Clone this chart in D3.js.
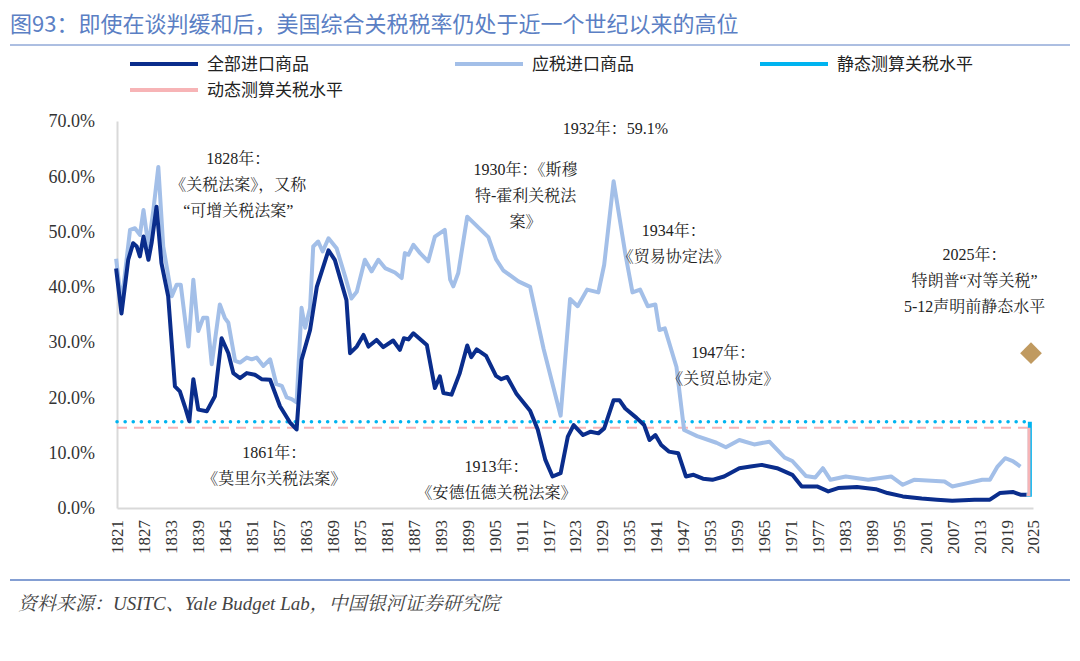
<!DOCTYPE html>
<html><head><meta charset="utf-8">
<script src="https://cdn.jsdelivr.net/npm/d3@7"></script>
<style>body{margin:0;background:#fff}</style></head>
<body><svg id="c" width="1080" height="661"></svg>
<script>
const allYears=[1820.8,1822,1823.5,1824.6,1825.4,1826.1,1826.9,1828,1828.7,1829.8,1830.9,1832.4,1833.9,1835,1836.1,1837.1,1838,1839.1,1841,1842.8,1844.3,1845.8,1846.9,1848.4,1849.9,1851.7,1853.2,1855.1,1857.3,1859.5,1861,1862.1,1864,1865.5,1868.1,1869.5,1872.1,1872.9,1874.4,1875.9,1877,1878.8,1880.3,1882.5,1884,1884.9,1885.9,1887,1890,1891.8,1892.9,1893.7,1895.5,1897.3,1899,1899.9,1901.1,1903.2,1905.4,1906.6,1907.9,1910,1913,1914.7,1916.4,1918,1919.8,1921.4,1922.7,1924.8,1926.5,1928.2,1929.5,1931.6,1932.9,1934.2,1936.7,1938.4,1939.6,1940.9,1942.2,1943.9,1946,1947.7,1949.4,1951.5,1953.6,1956.2,1959.6,1962.1,1964.6,1968,1971.4,1973.5,1976.9,1979.4,1981.6,1985.8,1990,1992.6,1996,2000.2,2003.6,2007,2012,2015.4,2017.6,2020.5,2022.2,2023.6];
const allValues=[43.3,35.2,44.9,47.9,47.3,45.5,49.1,44.9,47.9,54.5,44.3,38.3,22,21.1,18.4,15.7,23.3,17.8,17.5,20.2,30.7,28,24.4,23.5,24.4,24.1,23.3,23.2,18.4,15.5,14.2,26.8,32.2,40,46.6,44.9,37.6,28,29.2,31.3,29.2,30.4,29.1,30.3,28.6,30.7,30.5,31.6,29.5,21.7,23.8,20.8,20.5,24.3,29.4,27.3,28.7,27.5,23.9,23.3,23.7,20.6,17.6,14.2,8.7,5.7,6.3,12.9,15,13.2,13.8,13.5,14.4,19.5,19.5,18,16.3,15,12.3,13.2,11.4,10.2,9.9,5.7,6,5.3,5.1,5.7,7.2,7.5,7.8,7.2,6,3.9,3.9,3,3.6,3.8,3.4,2.7,2.1,1.7,1.5,1.3,1.5,1.5,2.7,2.9,2.4,2.4];
const dutYears=[1820.8,1822,1823.9,1825,1826.1,1826.9,1828,1829.1,1830.2,1831.3,1833.2,1834.3,1835.2,1836.9,1838,1839.1,1840.2,1841.1,1842.1,1843.9,1845,1845.8,1847.3,1848.4,1849.9,1851,1852.1,1853.6,1855.1,1856.5,1857.7,1858.8,1859.9,1861,1862.1,1862.9,1864,1864.7,1865.8,1866.8,1868.1,1869.9,1871.8,1873.2,1874.4,1876.2,1877.7,1879.2,1880.7,1882.9,1884.4,1885.1,1885.9,1887,1888.5,1890.3,1891.8,1894,1895.2,1895.9,1897,1899,1903.7,1905.4,1907,1910.4,1913,1916,1919.8,1921.9,1923.6,1925.7,1928.2,1929.5,1931.6,1934.2,1935.8,1937.5,1939.2,1940.9,1941.8,1943,1945.6,1947.3,1950.2,1954.5,1956.6,1959.6,1962.9,1966.3,1969.7,1971.4,1974.4,1976.5,1978.2,1979.9,1983.3,1988.3,1993.4,1996,1998.5,2005.3,2007,2010.4,2013.7,2015.4,2017.1,2018.8,2020.5,2022.2];
const dutValues=[45.1,37,50.3,50.6,49.4,53.9,47.3,53.9,61.7,47.3,38.3,40.4,40.4,29.2,41.3,32,34.4,34.4,26,36.8,34.4,33.5,26.6,26.3,27.2,26.9,27.2,25.7,26.9,22.4,22.1,20,19.7,19.1,36.2,32.6,36.2,47.3,48.2,46.4,48.8,47,41.9,37.9,39.1,44.9,42.8,44.9,43.4,42.6,41.6,46.1,45.8,47.6,46.1,44.6,49.1,50.3,41.3,40.1,42.5,52.7,49,45,43,41,40,28.8,16.7,37.8,36.5,39.5,39,44,59.1,46,39,39.5,36.5,36.8,32.2,32.5,25.5,14.1,13,11.8,11,12.3,11.5,12,9.1,8.5,5.8,5.5,7.2,5.1,5.7,5.1,5.7,4.2,5.1,4.8,3.9,4.5,5.1,5.1,7.5,9,8.5,7.5];
const staticLevel=15.6, dynamicLevel=14.5, jumpFrom=2.4, jumpYears=[2023.6,2024.3];
const diamond={year:2025,value:28};
const yTicks=[0,10,20,30,40,50,60,70];
const xTicks=d3.range(1821,2026,6);
const legendNames=["全部进口商品","应税进口商品","静态测算关税水平","动态测算关税水平"];
const notes=[
 {year:1848,v:62.3,lines:["1828年：","《关税法案》，又称","“可增关税法案”"]},
 {year:1856,v:9.1,lines:["1861年：","《莫里尔关税法案》"]},
 {year:1905.5,v:6.6,lines:["1913年：","《安德伍德关税法案》"]},
 {year:1912,v:60.3,lines:["1930年：《斯穆","特-霍利关税法","案》"]},
 {year:1932,v:67.6,lines:["1932年：59.1%"]},
 {year:1945,v:49.2,lines:["1934年：","《贸易协定法》"]},
 {year:1956,v:27.2,lines:["1947年：","《关贸总协定》"]},
 {year:2012,v:44.8,lines:["2025年：","特朗普“对等关税”","5-12声明前静态水平"]}
];
const C={dark:"#0a2d8c",light:"#a3bfe8",cyan:"#00b4f0",pink:"#f7b4b6"};
const svg=d3.select("#c");
const x=d3.scaleLinear().domain([1821,2025]).range([117,1033]);
const y=d3.scaleLinear().domain([0,70]).range([508,121]);
const serif="'Liberation Serif','Noto Serif CJK SC','Noto Sans CJK SC',serif";
svg.append("text").attr("x",10).attr("y",32).attr("fill","#5b7fc4").attr("font-size",22)
 .attr("font-family","'Noto Sans CJK SC'").text("图93：即使在谈判缓和后，美国综合关税税率仍处于近一个世纪以来的高位");
svg.append("line").attr("x1",10).attr("x2",1070).attr("y1",45).attr("y2",45).attr("stroke","#5b7fc4").attr("stroke-width",1);
svg.append("line").attr("x1",10).attr("x2",1070).attr("y1",580).attr("y2",580).attr("stroke","#5b7fc4").attr("stroke-width",1.5);
svg.append("text").attr("x",18).attr("y",610).attr("fill","#444").attr("font-size",19).attr("font-style","italic")
 .attr("font-family",serif).text("资料来源：USITC、Yale Budget Lab，中国银河证券研究院");
const lg=[[130,64,C.dark],[455,64,C.light],[760,64,C.cyan],[130,90,C.pink]];
lg.forEach((l,i)=>{
 svg.append("line").attr("x1",l[0]).attr("x2",l[0]+68).attr("y1",l[1]).attr("y2",l[1]).attr("stroke",l[2]).attr("stroke-width",4);
 svg.append("text").attr("x",l[0]+77).attr("y",l[1]+6).attr("font-size",17).attr("fill","#222").attr("font-family","'Noto Sans CJK SC'").text(legendNames[i]);
});
const ya=svg.append("g").attr("transform","translate(117,0)").call(d3.axisLeft(y).tickValues(yTicks).tickSize(0).tickPadding(22).tickFormat(d=>d.toFixed(1)+"%"));
ya.select(".domain").attr("stroke","#d9d9d9").attr("stroke-width",2);
ya.selectAll("text").attr("font-size",18).attr("font-family",serif).attr("fill","#333");
const xa=svg.append("g").attr("transform","translate(0,508)").call(d3.axisBottom(x).tickValues(xTicks).tickSize(0).tickFormat(d=>String(d)));
xa.select(".domain").attr("stroke","#d9d9d9").attr("stroke-width",2);
xa.selectAll("text").attr("font-size",17).attr("font-family",serif).attr("fill","#333")
 .attr("transform","rotate(-90)").attr("text-anchor","end").attr("dx","-12px").attr("dy","0.35em").attr("y",0).attr("x",0);
svg.append("line").attr("x1",x(1821)).attr("x2",x(2024.3)).attr("y1",y(staticLevel)).attr("y2",y(staticLevel))
 .attr("stroke",C.cyan).attr("stroke-width",3.5).attr("stroke-dasharray","0.1 8").attr("stroke-linecap","round");
svg.append("line").attr("x1",x(1821)).attr("x2",x(2024.3)).attr("y1",y(dynamicLevel)).attr("y2",y(dynamicLevel))
 .attr("stroke",C.pink).attr("stroke-width",2).attr("stroke-dasharray","10 7");
const line=d3.line().x(d=>x(d[0])).y(d=>y(d[1]));
svg.append("path").datum(d3.zip(dutYears,dutValues)).attr("d",line).attr("fill","none").attr("stroke",C.light).attr("stroke-width",4).attr("stroke-linejoin","round");
svg.append("path").datum(d3.zip(allYears,allValues)).attr("d",line).attr("fill","none").attr("stroke",C.dark).attr("stroke-width",4).attr("stroke-linejoin","round");
svg.append("path").datum([[jumpYears[0],jumpFrom],[jumpYears[1],jumpFrom],[jumpYears[1],staticLevel]]).attr("d",line).attr("fill","none").attr("stroke",C.cyan).attr("stroke-width",4);
svg.append("path").datum([[jumpYears[0],jumpFrom],[jumpYears[1]-0.2,jumpFrom],[jumpYears[1]-0.2,dynamicLevel]]).attr("d",line).attr("fill","none").attr("stroke",C.pink).attr("stroke-width",3);
svg.append("path").attr("d",d3.symbol(d3.symbolDiamond2,300)()).attr("transform",`translate(${x(diamond.year)-2},${y(diamond.value)})`).attr("fill","#c09a60");
notes.forEach(n=>{
 n.lines.forEach((t,i)=>svg.append("text").attr("x",x(n.year)).attr("y",y(n.v)+i*26).attr("text-anchor","middle")
  .attr("font-size",16).attr("fill","#222").attr("font-family",serif).text(t));
});
</script></body></html>
